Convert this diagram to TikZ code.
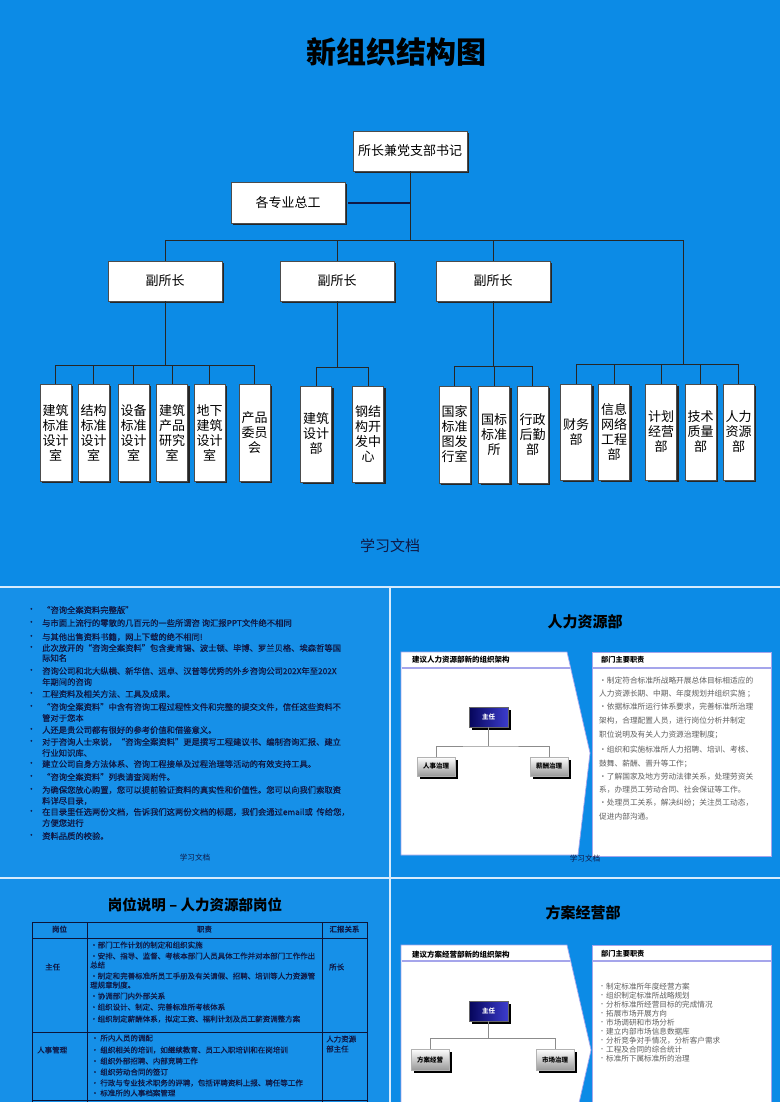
\documentclass[tikz,border=0pt]{standalone}
\usepackage{fontspec}
\setmainfont{Noto Sans CJK SC}
\newfontfamily\heavyfont{Noto Sans CJK SC}[FakeBold=0.6]
\usetikzlibrary{shadows}
\definecolor{bg}{RGB}{12,139,230}
\definecolor{bgb}{RGB}{22,144,232}
\definecolor{sep}{RGB}{215,235,252}
\definecolor{navy}{RGB}{15,25,70}
\definecolor{lav}{RGB}{165,165,235}
\definecolor{gtxt}{RGB}{95,95,95}
\definecolor{chiefL}{RGB}{5,5,90}
\definecolor{chiefR}{RGB}{60,60,205}
\begin{document}
\begin{tikzpicture}[x=1pt,y=-1pt,
  orgbox/.style={draw=black!70, line width=0.6pt, fill=white, inner sep=0pt, align=center,
    font=\fontsize{13}{15}\selectfont,
    drop shadow={shadow xshift=2pt, shadow yshift=-2pt, opacity=1, fill=black!85}},
  hbox/.style={orgbox, minimum width=114pt, minimum height=40pt},
  vbox/.style={orgbox, minimum width=31pt, minimum height=97pt},
  orgline/.style={draw=black!85, line width=0.9pt},
  ptx/.style={anchor=west, inner sep=0pt, text=navy, font=\heavyfont\fontsize{8.3}{9}\selectfont},
  gtx/.style={anchor=west, inner sep=0pt, text=gtxt, font=\fontsize{7.7}{8}\selectfont},
  ttx/.style={anchor=west, inner sep=0pt, text=navy, font=\heavyfont\fontsize{7.5}{8}\selectfont},
  hdr/.style={anchor=west, inner sep=0pt, text=black, font=\bfseries\fontsize{7.5}{8}\selectfont},
  stitle/.style={inner sep=0pt, text=black, font=\bfseries\fontsize{15}{15}\selectfont},
  foot/.style={inner sep=0pt, text=navy, font=\fontsize{7.6}{8}\selectfont},
  panel/.style={fill=white, draw=lav, line width=0.7pt},
  hline/.style={draw=lav, line width=1.3pt},
  chief/.style={left color=chiefL, right color=chiefR, draw=black!60, line width=0.4pt,
    minimum width=39pt, minimum height=20pt, inner sep=0pt, text=white,
    font=\bfseries\fontsize{6.5}{6.5}\selectfont,
    drop shadow={shadow xshift=3pt, shadow yshift=-3pt, opacity=1, fill=black}},
  sub/.style={top color=white, bottom color=black!40, draw=black!30, line width=0.4pt,
    minimum width=38pt, minimum height=20pt, inner sep=0pt, text=black,
    font=\bfseries\fontsize{6.5}{6.5}\selectfont,
    drop shadow={shadow xshift=3pt, shadow yshift=-3pt, opacity=1, fill=black}},
  mini/.style={draw=black!45, line width=1pt},
  tab/.style={draw=navy!80!black, line width=1pt}
]
\useasboundingbox (0,0) rectangle (780,1102);
% backgrounds
\fill[bg] (0,0) rectangle (780,1102);
\fill[bgb] (0,588) rectangle (389,877);
\fill[bgb] (0,879) rectangle (389,1102);
\fill[sep] (0,585.5) rectangle (780,588);
\fill[sep] (0,877) rectangle (780,879);
\fill[sep] (389,588) rectangle (391,1102);

% ================= top slide: org chart =================
\node[inner sep=0pt, font=\bfseries\fontsize{30}{30}\selectfont] (title) at (396,52) {新组织结构图};

\node[hbox] (sz) at (410,151) {所长兼党支部书记};
\node[hbox, minimum height=41pt] (zg) at (288,202.5) {各专业总工};
\node[hbox] (f1) at (165,281) {副所长};
\node[hbox] (f2) at (337,281) {副所长};
\node[hbox] (f3) at (493,281) {副所长};

\coordinate (busL) at (166,240);
\coordinate (busR) at (683,240);
\draw[orgline] (sz.south) -- (sz.south |- busL);
\draw[draw=navy, line width=2pt] (zg.east) ++(3,0) -- (zg.east -| sz.south);
\draw[orgline] (busL) -- (busR);
\draw[orgline] (f1.north) -- (f1.north |- busL);
\draw[orgline] (f2.north) -- (f2.north |- busL);
\draw[orgline] (f3.north) -- (f3.north |- busL);

% group 1
\foreach \n/\x/\t in {a1/55.5/{建筑\\标准\\设计\\室}, a2/93.5/{结构\\标准\\设计\\室},
  a3/133.5/{设备\\标准\\设计\\室}, a4/172/{建筑\\产品\\研究\\室},
  a5/209.5/{地下\\建筑\\设计\\室}, a6/254.5/{产品\\委员\\会}}
  \node[vbox] (\n) at (\x,432.5) {\t};
% group 2
\foreach \n/\x/\t in {b1/316/{建筑\\设计\\部}, b2/368/{钢结\\构开\\发中\\心}}
  \node[vbox, minimum height=96pt] (\n) at (\x,434) {\t};
% group 3
\foreach \n/\x/\t in {c1/454.5/{国家\\标准\\图发\\行室}, c2/494/{国标\\标准\\所}, c3/532.5/{行政\\后勤\\部}}
  \node[vbox] (\n) at (\x,434.5) {\t};
% group 4
\foreach \n/\x/\t in {d1/576/{财务\\部}, d2/614/{信息\\网络\\工程\\部}, d3/661/{计划\\经营\\部},
  d4/700.5/{技术\\质量\\部}, d5/738.5/{人力\\资源\\部}}
  \node[vbox, minimum height=96pt] (\n) at (\x,432) {\t};

\coordinate (g1) at (0,365);
\coordinate (g2) at (0,367);
\coordinate (g3) at (0,366);
\coordinate (g4) at (0,364);
\draw[orgline] (f1.south) -- (f1.south |- g1);
\draw[orgline] (a1.north |- g1) -- (a6.north |- g1);
\foreach \i in {1,...,6} \draw[orgline] (a\i.north) -- (a\i.north |- g1);
\draw[orgline] (f2.south) -- (f2.south |- g2);
\draw[orgline] (b1.north |- g2) -- (b2.north |- g2);
\foreach \i in {1,2} \draw[orgline] (b\i.north) -- (b\i.north |- g2);
\draw[orgline] (f3.south) -- (f3.south |- g3);
\draw[orgline] (c1.north |- g3) -- (c3.north |- g3);
\foreach \i in {1,2,3} \draw[orgline] (c\i.north) -- (c\i.north |- g3);
\draw[orgline] (busR) -- (busR |- g4);
\draw[orgline] (d1.north |- g4) -- (d5.north |- g4);
\foreach \i in {1,...,5} \draw[orgline] (d\i.north) -- (d\i.north |- g4);

\node[inner sep=0pt, text=navy, font=\fontsize{15}{15}\selectfont] (foot0) at (390,546) {学习文档};

% ================= panel 1 =================
\foreach \i/\y/\t in {
1/610/{“咨询全案资料完整版”},
2/623/{与市面上流行的零散的几百元的一些所谓咨 询汇报PPT文件绝不相同},
3/637/{与其他出售资料书籍，网上下载的绝不相同!},
4/648/{此次放开的“咨询全案资料”包含麦肯锡、波士顿、毕博、罗兰贝格、埃森哲等国},
5/658/{际知名},
6/671/{咨询公司和北大纵横、新华信、远卓、汉普等优秀的外乡咨询公司202X年至202X},
7/682/{年期间的咨询},
8/694/{工程资料及相关方法、工具及成果。},
9/707/{“咨询全案资料”中含有咨询工程过程性文件和完整的提交文件，信任这些资料不},
10/718/{管对于您本},
11/730/{人还是贵公司都有很好的参考价值和借鉴意义。},
12/742/{对于咨询人士来说，“咨询全案资料”更是撰写工程建议书、编制咨询汇报、建立},
13/753/{行业知识库、},
14/764/{建立公司自身方法体系、咨询工程接单及过程治理等活动的有效支持工具。},
15/777/{“咨询全案资料”列表请查阅附件。},
16/790/{为确保您放心购置，您可以提前验证资料的真实性和价值性。您可以向我们索取资},
17/801/{料详尽目录，},
18/812/{在目录里任选两份文档，告诉我们这两份文档的标题，我们会通过email或\ \ 传给您，},
19/823/{方便您进行},
20/836/{资料品质的校验。}}
  \node[ptx] (pa\i) at (42,\y) {\t};
\foreach \y in {610,623,637,648,671,694,707,730,742,764,777,790,812,836}
  \node[ptx] (pb\y) at (27,\y) {•};
\node[foot] (foot1) at (195,858) {学习文档};

% ================= panel 2 =================
\node[stitle] (t2) at (585,622) {人力资源部};
\filldraw[panel] (401,652) -- (567,652) -- (590,753) -- (578,855) -- (401,855) -- cycle;
\filldraw[panel] (592,652) rectangle (771,856);
\draw[hline] (401.5,668) -- (570,668);
\draw[hline] (592.5,668) -- (770.5,668);
\node[hdr] (h2a) at (412,660) {建议人力资源部新的组织架构};
\node[hdr, font=\bfseries\fontsize{7.2}{8}\selectfont] (h2b) at (601,660) {部门主要职责};
\node[chief] (m2c) at (488.5,717) {主任};
\node[sub, minimum height=19pt] (m2a) at (436,766.5) {人事治理};
\node[sub, minimum height=19pt] (m2b) at (549,766.5) {薪酬治理};
\coordinate (m2) at (488.5,746);
\draw[mini] (m2c.south) -- (m2);
\draw[mini] (m2a.north) |- (m2) -| (m2b.north);
\foreach \i/\y/\t in {1/681/{•制定符合标准所战略开展总体目标相适应的},
  2/694/{人力资源长期、中期、年度规划并组织实施 ；},
  3/707/{•依据标准所运行体系要求，完善标准所治理},
  4/721/{架构，合理配置人员，进行岗位分析并制定},
  5/735/{职位说明及有关人力资源治理制度；},
  6/750/{•组织和实施标准所人力招聘、培训、考核、},
  7/764/{鼓舞、薪酬、晋升等工作；},
  8/777/{•了解国家及地方劳动法律关系，处理劳资关},
  9/790/{系，办理员工劳动合同、社会保证等工作。},
  10/803/{•处理员工关系，解决纠纷；关注员工动态，},
  11/817/{促进内部沟通。}}
  \node[gtx] (r2\i) at (599,\y) {\t};
\node[foot] (foot2) at (585,859) {学习文档};

% ================= panel 3 =================
\node[stitle, font=\bfseries\fontsize{14.5}{15}\selectfont] (t3) at (195,905) {岗位说明 – 人力资源部岗位};
\foreach \y in {922,938,1032,1100} \draw[tab] (32,\y) -- (367,\y);
\foreach \x in {32,87,322,367} \draw[tab] (\x,922) -- (\x,1102);
\node[ttx, anchor=center, font=\bfseries\fontsize{7.5}{8}\selectfont] (th1) at (59.5,930) {岗位};
\node[ttx, anchor=center, font=\bfseries\fontsize{7.5}{8}\selectfont] (th2) at (204.5,930) {职责};
\node[ttx, anchor=center, font=\bfseries\fontsize{7.5}{8}\selectfont] (th3) at (344.5,930) {汇报关系};
\node[ttx] (r1a) at (45,967) {主任};
\node[ttx] (r1c) at (329,967) {所长};
\node[ttx] (r2a) at (37,1050) {人事管理};
\node[ttx] (r2c1) at (326,1039) {人力资源};
\node[ttx] (r2c2) at (326,1049) {部主任};
\foreach \i/\y/\t in {1/945/{•部门工作计划的制定和组织实施},
  2/956/{•安排、指导、监督、考核本部门人员具体工作并对本部门工作作出},
  3/965/{总结},
  4/976/{•制定和完善标准所员工手册及有关请假、招聘、培训等人力资源管},
  5/985/{理规章制度。},
  6/996/{•协调部门内外部关系},
  7/1007/{•组织设计、制定、完善标准所考核体系},
  8/1019/{•组织制定薪酬体系，拟定工资、福利计划及员工薪资调整方案}}
  \node[ttx] (q1\i) at (90,\y) {\t};
\foreach \i/\y/\t in {1/1038/{• 所内人员的调配},
  2/1050/{• 组织相关的培训，如继续教育、员工入职培训和在岗培训},
  3/1061/{• 组织外部招聘、内部竞聘工作},
  4/1072/{• 组织劳动合同的签订},
  5/1083/{• 行政与专业技术职务的评聘，包括评聘资料上报、聘任等工作},
  6/1093/{• 标准所的人事档案管理}}
  \node[ttx] (q2\i) at (91,\y) {\t};

% ================= panel 4 =================
\node[stitle] (t4) at (583,913) {方案经营部};
\filldraw[panel] (401,1103) -- (401,945) -- (567,945) -- (591,1050) -- (579,1103);
\filldraw[panel] (592,1103) -- (592,945) -- (771,945) -- (771,1103);
\draw[hline] (401.5,961) -- (570,961);
\draw[hline] (592.5,961) -- (770.5,961);
\node[hdr] (h4a) at (412,955) {建议方案经营部新的组织架构};
\node[hdr, font=\bfseries\fontsize{7.2}{8}\selectfont] (h4b) at (601,954) {部门主要职责};
\node[chief] (m4c) at (488.5,1011) {主任};
\node[sub, minimum height=21pt] (m4a) at (430,1059.5) {方案经营};
\node[sub, minimum height=21pt] (m4b) at (555,1059.5) {市场治理};
\coordinate (m4) at (488.5,1038);
\draw[mini] (m4c.south) -- (m4);
\draw[mini] (m4a.north) |- (m4) -| (m4b.north);
\foreach \i/\y/\t in {1/987/{制定标准所年度经营方案}, 2/996/{组织制定标准所战略规划},
  3/1005/{分析标准所经营目标的完成情况}, 4/1014/{拓展市场开展方向},
  5/1023/{市场调研和市场分析}, 6/1032/{建立内部市场信息数据库},
  7/1041/{分析竞争对手情况，分析客户需求}, 8/1050/{工程及合同的综合统计},
  9/1059/{标准所下属标准所的治理}}
{
  \node[gtx, font=\fontsize{7.6}{8}\selectfont] (s4\i) at (606,\y) {\t};
  \node[gtx, font=\fontsize{6}{6}\selectfont] (s4b\i) at (599,\y) {•};
}
\end{tikzpicture}
\end{document}
